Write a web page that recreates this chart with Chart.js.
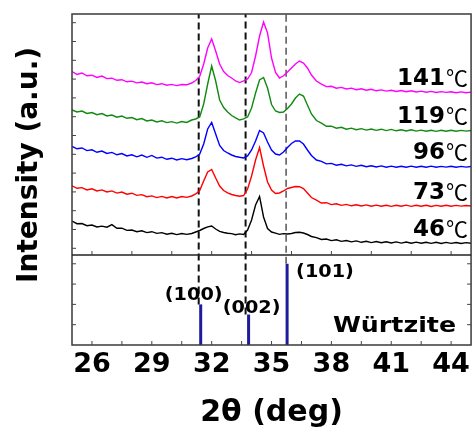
<!DOCTYPE html>
<html><head><meta charset="utf-8">
<script src="https://cdn.jsdelivr.net/npm/chart.js@4.4.1/dist/chart.umd.min.js"></script>
<style>html,body{margin:0;padding:0;background:#fff;}#wrap{width:474px;height:431px;}</style>
</head><body><div id="wrap"><canvas id="c" width="474" height="431"></canvas></div>
<script>
// 2θ grid (deg)
const twoTheta = [25,25.25,25.5,25.75,26,26.25,26.5,26.75,27,27.25,27.5,27.75,28,28.25,28.5,28.75,29,29.25,29.5,29.75,30,30.25,30.5,30.75,
31,31.2,31.4,31.6,31.8,32,32.2,32.4,32.6,32.8,33,33.2,33.4,33.6,33.8,34,34.2,34.4,34.6,34.8,35,35.2,35.4,35.6,35.8,36,36.2,36.4,36.6,36.8,37,
37.25,37.5,37.75,38,38.25,38.5,38.75,39,39.25,39.5,39.75,40,40.25,40.5,40.75,41,41.25,41.5,41.75,42,42.25,42.5,42.75,43,43.25,43.5,43.75,44,44.25,44.5,44.75,45];

// intensities (a.u., stacked offsets as plotted)
const i141 = [183.5,180.6,182.0,179.2,179.8,177.6,178.9,176.4,176.8,174.7,175.3,173.2,173.9,172.1,173.0,171.3,172.2,170.4,171.3,169.8,170.6,169.4,170.5,170.2,
172,174.5,178.5,191,207,216,204,191,183.5,179.5,177.0,174.0,172.4,174.1,176,182.5,199,219,233,222,197,182.5,177.0,179.2,183,187,191,194,192,187,180,
174.0,170.9,168.4,168.7,166.8,167.6,166.0,166.9,165.3,166.2,164.8,165.7,164.2,165.1,163.9,164.8,163.5,164.5,163.3,164.2,163.0,163.9,162.8,163.6,162.5,163.4,162.6,163.3,162.2,163.1,162.3,162.9];
const i119 = [145.1,143.0,143.9,141.6,142.5,140.3,141.4,139.1,140.0,137.8,138.9,136.7,137.5,135.3,136.4,134.1,135.0,133.1,134.2,132.4,133.4,131.9,133.5,132.6,
135,136,138,151,171,189,174,155,147.5,143,139.5,137.1,135.0,136.2,138,147,162,175,177.5,167,150.5,144,142.5,143,146.5,151,157,161,159,150,141,
134.5,131.9,128.7,128.9,126.8,127.7,125.8,126.9,125.3,126.4,124.9,126.0,124.6,125.8,124.4,125.6,124.2,125.3,124.0,125.2,123.9,124.9,123.7,124.8,123.6,124.7,123.7,124.8,123.8,124.6,123.9,124.5];
const i96 = [108.6,106.2,107.0,104.4,105.2,102.7,103.9,101.5,102.6,100.2,101.4,99.1,100.2,98.2,99.9,97.7,99.6,96.9,97.8,95.7,96.8,95.1,96.4,95.3,
96.5,98,101,111,126,132.5,121,109.5,104.5,102,100,98.5,97.7,97,99,105,114,124.5,122,113,105,101,100,103,107.5,111.5,114,114,111,105,99.5,
95.0,93.7,91.1,91.6,89.8,90.7,89.1,90.1,88.6,89.7,88.3,89.3,88.0,89.1,87.8,88.9,87.7,88.8,87.7,88.9,87.8,88.7,87.7,88.9,87.8,88.6,87.9,88.8,87.7,88.6,87.9,88.5];
const i73 = [69.2,66.7,67.4,65.1,66.2,64.0,65.1,63.0,64.1,61.9,62.9,60.8,61.8,59.6,60.4,58.3,59.1,57.4,58.6,57.1,58.4,57.0,58.5,57.6,
59,61,64.5,74,83,85.5,77,69,64.5,62.2,60.5,59.5,58.8,59.5,66,79,95,107.5,89,73,65,61.5,62,64,66.5,67.5,68.5,68.3,66.5,62,57.5,
54.9,52.0,52.3,50.4,51.2,49.6,50.6,49.2,50.3,49.0,50.1,48.8,49.9,48.7,49.8,48.6,49.8,48.7,49.9,48.6,49.7,48.8,49.8,48.5,49.6,48.7,49.7,48.8,49.6,48.9,49.5,49.0];
const i46 = [34.0,31.3,31.5,29.3,30.0,28.0,28.9,27.8,30.4,26.8,26.9,24.6,25.0,23.3,24.2,22.4,23.3,21.6,22.4,20.8,21.7,20.4,21.5,20.6,
21.5,23,24.5,26.5,28.2,29,26,23.7,22.5,21.7,21.4,20.3,21.1,20.6,25,35,50,58.5,38,26.5,23,21.8,20.6,21.4,21,21.5,22.5,22.7,22,20.5,18.5,
17.4,15.5,16.0,14.4,15.2,13.6,14.5,13.1,14.1,12.7,13.7,12.4,13.5,12.2,13.3,12.0,13.1,11.9,13.0,11.8,12.9,11.7,12.8,11.6,12.7,11.5,12.6,11.6,12.5,11.5,12.4,11.8];

const temps = ['141','119','96','73','46'];
const seriesColors = ['#ff00ff','#108a10','#0000ff','#ff0000','#000000'];

// Würtzite reference
const refPositions = [31.45, 33.85, 35.78];
const refHeights = [2.0, 1.5, 4.0];
const refLabels = ['(100)','(002)','(101)'];
const dashPositions = [31.35, 33.7, 35.73];

// ticks
const xTickValues = [26,27.5,29,30.5,32,33.5,35,36.5,38,39.5,41,42.5,44];
const xTickLabels = [26,29,32,35,38,41,44];
const dividerTickValues = [26,28,30,32,34,36,38,40,42,44];
const topTickValues = [6.7,25.5,44.3,63.1,81.9,100.7,119.5,138.3,157.1,175.9,194.7,213.5,232.3];
const refTickValues = [1,2,3,4];

const Y2MAX = 16.3;

const allSeries = [i141, i119, i96, i73, i46];
const datasets = [];
allSeries.forEach((s, k) => {
  datasets.push({
    data: twoTheta.map((x, i) => ({x, y: s[i]})),
    borderColor: seriesColors[k], borderWidth: 1.4, pointRadius: 0, tension: 0, yAxisID: 'y', fill: false
  });
});
dashPositions.forEach((p, k) => {
  datasets.push({
    data: [{x: p, y: refHeights[k]}, {x: p, y: Y2MAX}],
    borderColor: k === 2 ? '#555' : '#111', borderWidth: k === 2 ? 1.5 : 2,
    borderDash: [7, 4], pointRadius: 0, yAxisID: 'y2'
  });
});
refPositions.forEach((p, k) => {
  datasets.push({
    data: [{x: p, y: 0}, {x: p, y: refHeights[k]}],
    borderColor: '#1c1c9c', borderWidth: 3, pointRadius: 0, yAxisID: 'y2'
  });
});

const decor = {
  id: 'decor',
  afterDatasetsDraw(chart) {
    const {ctx, chartArea: a, scales} = chart;
    const x = scales.x, y = scales.y, y2 = scales.y2;
    ctx.save();
    ctx.strokeStyle = '#3a3a3a'; ctx.lineWidth = 1.5;
    ctx.strokeRect(a.left, a.top, a.right - a.left, a.bottom - a.top);
    const dy = y.getPixelForValue(0);
    ctx.strokeStyle = '#222';
    ctx.beginPath(); ctx.moveTo(a.left, dy); ctx.lineTo(a.right, dy); ctx.stroke();
    ctx.lineWidth = 1; ctx.strokeStyle = '#444';
    ctx.beginPath();
    topTickValues.forEach(v => { const p = y.getPixelForValue(v); ctx.moveTo(a.left, p); ctx.lineTo(a.left + 4, p); });
    refTickValues.forEach(v => { const p = y2.getPixelForValue(v); ctx.moveTo(a.left, p); ctx.lineTo(a.left + 4, p); ctx.moveTo(a.right, p); ctx.lineTo(a.right - 4, p); });
    xTickValues.forEach(v => { const p = x.getPixelForValue(v); ctx.moveTo(p, a.bottom); ctx.lineTo(p, a.bottom - 4); });
    dividerTickValues.forEach(v => { const p = x.getPixelForValue(v); ctx.moveTo(p, dy); ctx.lineTo(p, dy - 4); });
    ctx.stroke();

    // temperature labels
    ctx.fillStyle = '#000';
    ctx.textBaseline = 'alphabetic';
    ctx.textAlign = 'right';
    allSeries.forEach((s, k) => {
      const base = y.getPixelForValue(s[s.length - 1]) - 7.5;
      ctx.font = 'normal 22px "Noto Sans CJK SC"';
      ctx.fillText('℃', a.right - 3, base + 1);
      const w = ctx.measureText('℃').width;
      ctx.font = 'bold 23px "DejaVu Sans"';
      ctx.fillText(temps[k], a.right - 3 - w - 1, base);
    });

    // hkl labels
    const offs = [[-7, -4, 'center'], [3, -1.5, 'center'], [9, 13, 'left']];
    ctx.font = 'bold 18px "DejaVu Sans"';
    refLabels.forEach((t, k) => {
      const px = x.getPixelForValue(refPositions[k]) + offs[k][0];
      const py = y2.getPixelForValue(refHeights[k]) + offs[k][1];
      ctx.save();
      ctx.translate(px, py); ctx.scale(1.07, 1);
      ctx.textAlign = offs[k][2];
      ctx.fillText(t, 0, 0);
      ctx.restore();
    });
    ctx.save();
    ctx.font = 'bold 22px "DejaVu Sans"';
    ctx.textAlign = 'right';
    ctx.translate(a.right - 15, a.bottom - 13.5); ctx.scale(1.15, 1);
    ctx.fillText('Würtzite', 0, 0);
    ctx.restore();
    ctx.restore();
  }
};

new Chart(document.getElementById('c'), {
  type: 'line',
  data: { datasets },
  options: {
    responsive: false, animation: false,
    layout: { padding: { left: 0, right: 2, top: 14, bottom: 0 } },
    plugins: { legend: { display: false }, tooltip: { enabled: false } },
    scales: {
      x: {
        type: 'linear', min: 25, max: 45, position: 'bottom',
        afterBuildTicks: s => { s.ticks = xTickValues.map(v => ({ value: v })); },
        afterFit: s => { s.height = 86; },
        ticks: { autoSkip: false, maxRotation: 0, minRotation: 0, padding: 4, color: '#000',
          font: { family: 'DejaVu Sans', weight: 'bold', size: 27 },
          callback: v => xTickLabels.includes(v) ? String(v) : '' },
        grid: { display: false, drawTicks: false }, border: { display: false },
        title: { display: true, text: '2θ (deg)', color: '#000', padding: { top: 0, bottom: 0 },
          font: { family: 'DejaVu Sans', weight: 'bold', size: 30 } }
      },
      y: {
        position: 'left', min: -90, max: 241,
        afterFit: s => { s.width = 72; },
        ticks: { display: false }, grid: { display: false, drawTicks: false }, border: { display: false },
        title: { display: true, text: '\u00a0\u00a0\u00a0Intensity (a.u.)', color: '#000', padding: { top: 13, bottom: 0 },
          font: { family: 'DejaVu Sans', weight: 'bold', size: 28 } }
      },
      y2: { display: false, position: 'left', min: 0, max: Y2MAX }
    }
  },
  plugins: [decor]
});
</script></body></html>
